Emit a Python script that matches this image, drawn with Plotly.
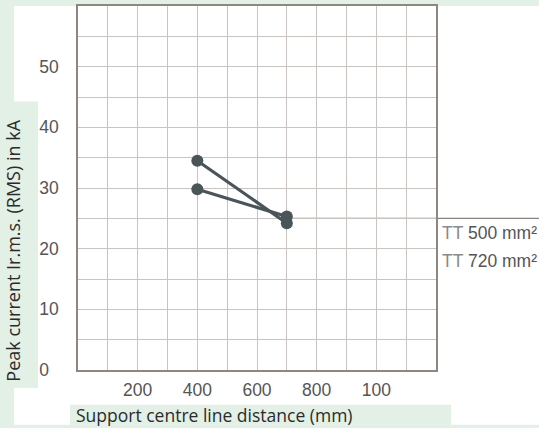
import plotly.graph_objects as go

# ---- data ----
distance_mm = [400, 700]
series_names = ["TT 500 mm²", "TT 720 mm²"]
current_500 = [34.5, 24.2]
current_720 = [29.8, 25.3]
x_tickvals = [200, 400, 600, 800, 1000]
x_ticktext = ["200", "400", "600", "800", "100"]
y_tickvals = [0, 10, 20, 30, 40, 50]
y_ticktext = ["0\u2007", "10", "20", "30", "40", "50"]
pointer_level = 25

W, H = 539, 428
L, R, T, B = 78, 436, 4, 370  # plot area pixel box


def px(x):
    return (x - L) / (R - L)


def py(y):
    return (B - y) / (B - T)


GREEN = "#e2f0e5"
LINE = "#4a5559"

fig = go.Figure()
for name, vals in zip(series_names, [current_500, current_720]):
    fig.add_trace(go.Scatter(
        x=distance_mm, y=vals, name=name, mode="lines+markers",
        line=dict(color=LINE, width=3.2),
        marker=dict(color=LINE, size=12),
        showlegend=False, cliponaxis=False,
    ))

shapes = [
    dict(type="rect", xref="paper", yref="paper", x0=px(14), x1=px(539), y0=py(4), y1=py(425),
         fillcolor="white", line_width=0, layer="below"),
    dict(type="rect", xref="paper", yref="paper", x0=px(0), x1=px(38), y0=py(100), y1=py(388),
         fillcolor=GREEN, line_width=0, layer="below"),
    dict(type="rect", xref="paper", yref="paper", x0=px(70), x1=px(451), y0=py(405), y1=py(425),
         fillcolor=GREEN, line_width=0, layer="below"),
    dict(type="line", xref="paper", yref="paper",
         x0=700 / 1200, x1=px(539), y0=pointer_level / 60, y1=pointer_level / 60,
         line=dict(color="#8a807c", width=1.2), layer="below"),
]

annotations = []
for i, name in enumerate(series_names):
    tt, rest = name.split(" ", 1)
    annotations.append(dict(
        xref="paper", yref="paper", x=px(440), y=py(232 + 28 * i),
        xanchor="left", yanchor="middle", showarrow=False,
        text=f"<span style='color:#8a8a8a'>{tt}</span> {rest}",
        font=dict(family="Liberation Sans, Arial", size=17.5, color="#555555"),
    ))
annotations.append(dict(
    xref="paper", yref="paper", x=px(74), y=py(415), xanchor="left", yanchor="middle",
    showarrow=False, text="Support centre line distance (mm)",
    font=dict(family="Open Sans", size=17.5, color="#2b2b2b"),
))
annotations.append(dict(
    xref="paper", yref="paper", x=px(13), y=py(250), xanchor="center", yanchor="middle",
    showarrow=False, textangle=-90, text="Peak current Ir.m.s. (RMS) in kA",
    font=dict(family="Open Sans", size=18, color="#2b2b2b"),
))

grid = "#cbc3bf"
tickfont = dict(family="Liberation Sans, Arial", size=17.5, color="#555555")
fig.update_layout(
    width=W, height=H,
    margin=dict(l=L, r=W - R, t=T, b=H - B, pad=0),
    paper_bgcolor=GREEN, plot_bgcolor="#f4f2f0",
    shapes=shapes, annotations=annotations,
    xaxis=dict(range=[0, 1200], tickvals=x_tickvals, ticktext=x_ticktext,
               showgrid=True, gridcolor=grid, gridwidth=1.2,
               minor=dict(dtick=100, tick0=0, showgrid=True, gridcolor=grid, gridwidth=1.2),
               zeroline=False, showline=True, mirror=True, linecolor="#8f8682", linewidth=1.5,
               ticks="", ticklabelstandoff=3, tickfont=tickfont, fixedrange=True),
    yaxis=dict(range=[0, 60], tickvals=y_tickvals, ticktext=y_ticktext,
               showgrid=True, gridcolor=grid, gridwidth=1.2,
               minor=dict(dtick=5, tick0=0, showgrid=True, gridcolor=grid, gridwidth=1.2),
               zeroline=False, showline=True, mirror=True, linecolor="#8f8682", linewidth=1.5,
               ticks="", ticklabelstandoff=14, tickfont=tickfont, fixedrange=True),
)

fig.write_html(
    "out.html",
    config={"displayModeBar": False},
    post_script="document.body.style.margin='0';document.body.style.overflow='hidden';",
)
